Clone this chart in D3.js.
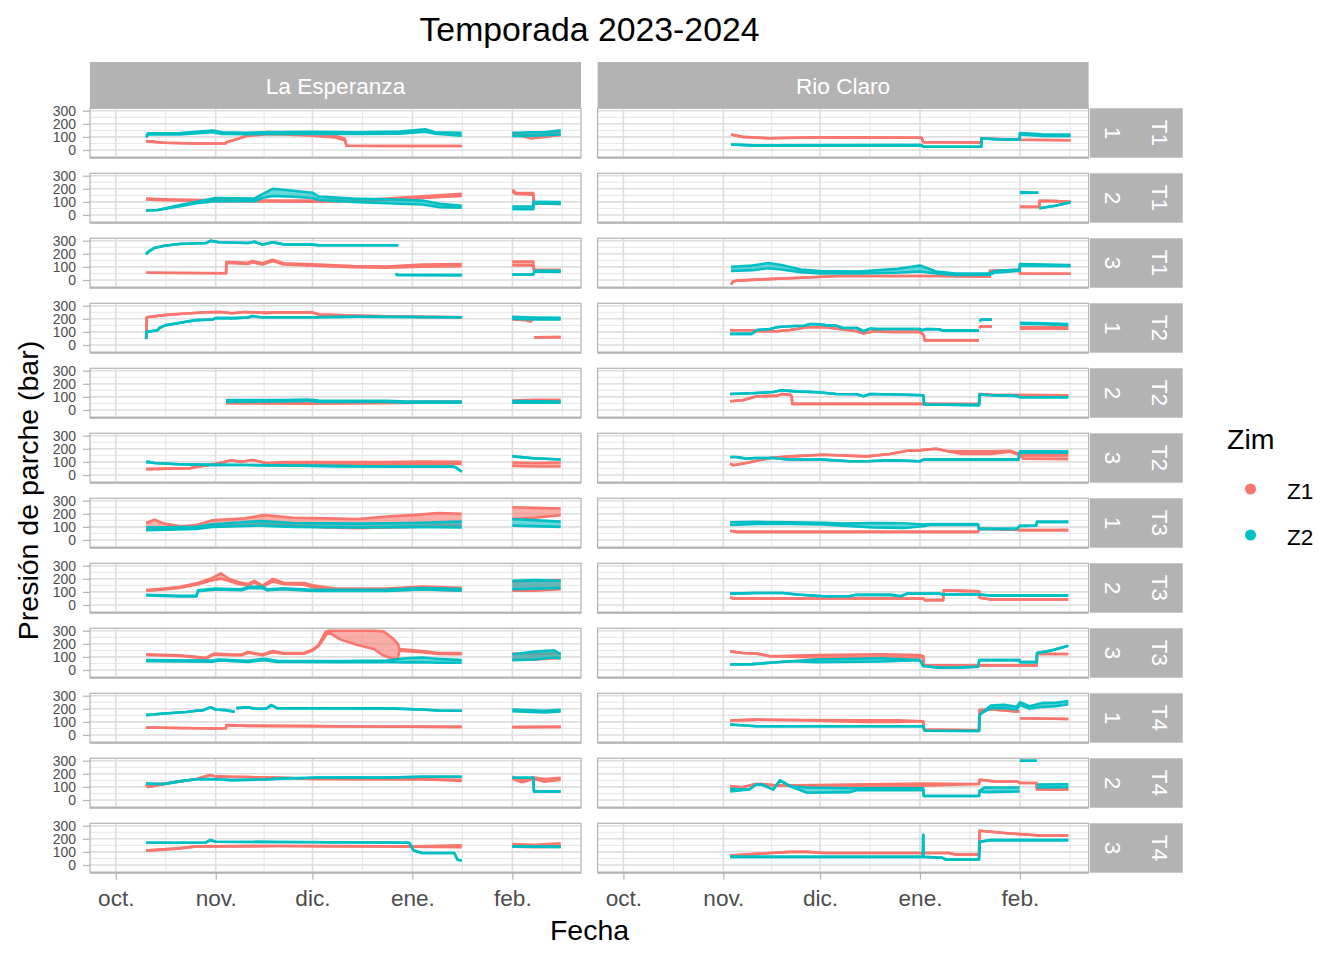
<!DOCTYPE html>
<html>
<head>
<meta charset="utf-8">
<script src="https://cdn.jsdelivr.net/npm/d3@7"></script>
<style>
  body { margin: 0; background: #fff; }
  text { font-family: "Liberation Sans", Arial, sans-serif; }
</style>
</head>
<body>
<svg width="1344" height="960"></svg>
<script>
// days are counted from 1 oct 2023; a point is [day, value] or [day, low, high] for noisy stretches
const sites = ["La Esperanza", "Rio Claro"];
const rows = [["T1","1"],["T1","2"],["T1","3"],["T2","1"],["T2","2"],["T2","3"],
              ["T3","1"],["T3","2"],["T3","3"],["T4","1"],["T4","2"],["T4","3"]];
const zims = ["Z1", "Z2"];
const monthTicks = [0, 31, 61, 92, 123];
const monthLabels = ["oct.", "nov.", "dic.", "ene.", "feb."];
const yTicks = [0, 100, 200, 300];

// ---- La Esperanza
const esp_T1_1_Z1 = [[[9.4,68],[15,55],[25,50],[34,50],[34.3,60],[38,85],[41,108,118],[47,120,138],[52,118,132],[61,110,125],[68,95,108],[71,75,88],[71.6,32],[85,30],[107.3,30]],
  [[123,115,132],[126,105,125],[129,88,110],[133,100,120],[138,115,130]]];
const esp_T1_1_Z2 = [[[9.4,95,110],[10,118,128],[20,118,130],[30,135,148],[33,122,135],[40,120,132],[45,122,135],[61,122,138],[75,122,135],[88,125,140],[96,140,158],[99,125,135],[107.3,110,132]],
  [[123,105,130],[128,108,135],[133,112,135],[138,118,150]]];
const esp_T1_2_Z1 = [[[9.4,118,125],[15,112,120],[31,105,112],[60,102,110],[75,103,112],[84,115,125],[95,130,142],[107.3,145,162]],
  [[123,180,195],[124,160,170],[129.5,155,168],[129.6,88],[138,85,95]]];
const esp_T1_2_Z2 = [[[9.4,35],[13,38],[19.6,65,75],[25,90,100],[31,105,130],[43,105,125],[45.5,130,160],[48.7,145,200],[55,140,185],[61,130,170],[63,115,140],[73.6,100,125],[84,90,120],[95,80,110],[100.5,60,85],[107.3,55,70]],
  [[123,45,65],[129.5,45,65],[129.6,90,100],[138,85,98]]];
const esp_T1_3_Z1 = [[[9.4,55],[34.2,52],[34.3,130,138],[41,122,132],[42.3,135,145],[45.5,118,128],[48.7,145,155],[52,118,128],[61,110,120],[73.6,98,106],[84,93,102],[95,102,118],[107.3,105,122]],
  [[123,112,140],[129.5,112,140],[129.7,70,80],[138,68,78]]];
const esp_T1_3_Z2 = [[[9.4,195],[10,215],[12,245],[15,262],[19.6,275],[28,282],[29.5,300],[32,288],[41,282],[43,292],[45.5,270],[48.7,288],[52,272],[61,270],[63,265],[87.6,265]],
  [[87,52],[87.2,38],[107.3,37]],
  [[123,42],[129.5,42],[130,65,72],[138,62,70]]];
const esp_T2_1_Z1 = [[[9.4,50],[9.6,212],[15,228],[19.6,237],[28,250],[32.6,252],[36,242],[40,252],[46.6,245],[52,250],[61,248],[63,232],[73.6,225],[84,220],[95,215],[107.3,212]],
  [[123,195,212],[127,190,205],[128.6,178,195],[129.4,195,205]],
  [[129.8,58],[138,60]]];
const esp_T2_1_Z2 = [[[9.4,45],[9.6,100],[13,112],[13.5,130],[15.3,150],[21.8,178],[25,190],[30,195],[31,205],[37,205],[41,210],[42.3,222],[45,212],[61,212],[75,216],[107.3,212]],
  [[123,200,215],[130,195,210],[138,195,208]]];
const esp_T2_2_Z1 = [[[34.2,50,58],[60,48,58],[84,52,58],[95,55,65],[107.3,55,65]],
  [[123,60,72],[130,60,78],[138,62,78]]];
const esp_T2_2_Z2 = [[[34.2,62,75],[52,65,75],[59.5,70,80],[63,62,72],[84,62,70],[90,55,65],[107.3,55,65]],
  [[123,55,68],[138,55,65]]];
const esp_T2_3_Z1 = [[[9.4,45],[22.9,52],[25,62],[30,80],[33.6,100],[35.8,112],[39,100],[42.3,115],[46.6,92],[52,82,98],[84,80,98],[95,88,102],[107.3,85,100]],
  [[123,70,95],[130,65,92],[138,65,95]]];
const esp_T2_3_Z2 = [[[9.4,98],[10,100],[12,92],[15,88],[19.6,82],[30,77],[41,76],[52,72],[69,68],[84,65],[105,64],[106,48],[107.3,25]],
  [[123,145],[124,140],[129.6,128],[138,118]]];
const esp_T3_1_Z1 = [[[9.4,90,130],[12,95,155],[15,90,125],[20,90,105],[25,95,115],[30,105,150],[40,110,165],[46,120,190],[55,110,170],[65,95,165],[75,90,160],[85,95,180],[92,100,190],[100,110,205],[107.3,110,200]],
  [[123,160,250],[130,170,245],[138,190,240]]];
const esp_T3_1_Z2 = [[[9.4,75,95],[25,85,100],[30,100,120],[45,110,145],[55,100,130],[75,95,125],[92,100,130],[107.3,95,140]],
  [[123,110,160],[138,100,140]]];
const esp_T3_2_Z1 = [[[9.4,108,115],[15,118,125],[19.6,130,138],[25,155,165],[29.3,185,200],[32.6,200,242],[35,185,200],[38,160,175],[41,150,160],[43,172,185],[45.5,138,148],[48.7,180,198],[52,158,170],[58.5,155,168],[61,135,150],[68,110,125],[84,110,125],[95,120,140],[107.3,110,132]],
  [[123,110,175],[130,110,185],[138,120,190]]];
const esp_T3_2_Z2 = [[[9.4,72,78],[19.6,65,70],[25,65,70],[25.5,105,112],[31,118,126],[39,112,120],[41,128,138],[45.5,128,140],[47,112,120],[52,120,128],[61,108,116],[84,108,118],[95,118,130],[107.3,110,122]],
  [[123,120,185],[130,125,190],[138,130,185]]];
const esp_T3_3_Z1 = [[[9.4,115,120],[19.6,108,112],[25,95,100],[28,88,94],[30.4,118,125],[36,112,118],[39,112,118],[41,132,138],[45.5,112,118],[48.7,136,145],[52,124,130],[58.5,125,132],[61,148,155],[63,185,195],[65,260,290],[66,285,300],[70,230,300],[75,190,300],[80,160,300],[83,110,295],[86,85,240],[87.5,90,200],[88,148,160],[95,135,145],[100,123,130],[107.3,120,130]],
  [[123,80,125],[130,80,120],[138,90,130]]];
const esp_T3_3_Z2 = [[[9.4,68,75],[30,64,72],[32,72,80],[41,62,70],[46,75,85],[50,62,70],[70,60,68],[84,62,72],[90,58,90],[95,60,95],[100,55,85],[107.3,55,75]],
  [[123,75,120],[130,80,140],[136,95,150],[138,90,120]]];
const esp_T4_1_Z1 = [[[9.4,57],[30,50],[34.2,52],[34.3,75],[41,70],[61,68],[73.6,65],[107.3,62]],
  [[123,60],[138,62]]];
const esp_T4_1_Z2 = [[[9.4,152],[14,162],[21.8,175],[25,185],[27,188],[29.3,212],[31,195],[34,190],[36.9,178]],
  [[37.4,205],[41,212],[43,200],[46.6,200],[48.2,228],[50,205],[84,203],[95,195],[100,187],[107.3,185]],
  [[123,182,195],[133,172,185],[138,180,192]]];
const esp_T4_2_Z1 = [[[9.4,117],[10,100],[15.3,125],[19.6,140],[25,160],[29.3,190],[31,180],[34.7,178],[41,175],[52,170],[61,160],[84,158],[95,158],[107.3,145,155]],
  [[123,160,178],[126,135,150],[129.6,160,172],[133,140,160],[138,155,170]]];
const esp_T4_2_Z2 = [[[9.4,125],[15,122],[19.6,142],[25,158],[29,160],[31,158],[36,152],[45.5,155],[52,165],[58.5,168],[63,172],[84,172],[95,178],[107.3,178]],
  [[123,170],[129.5,170],[129.7,66],[138,66]]];
const esp_T4_3_Z1 = [[[9.4,110],[19.6,127],[25,142],[50,145],[84,142],[90,140],[107.3,135,150]],
  [[123,140,160],[130,135,155],[138,140,165]]];
const esp_T4_3_Z2 = [[[9.4,170],[28,172],[29.3,190],[31,178],[50,175],[84,172],[91,170],[92.4,110],[95,92],[105,92],[106,40],[107.3,35]],
  [[123,142],[138,138]]];

// ---- Rio Claro
const rio_T1_1_Z1 = [[[33.4,118],[37,100],[45,90],[61,97],[92.5,93],[93,60],[111,58],[111.1,88],[116,84],[123,78],[138.7,74]]];
const rio_T1_1_Z2 = [[[33.4,42],[40,35],[92.5,37],[93,25],[111,25],[111.1,88],[116,82],[122.9,80],[123,118,130],[130,108,120],[138.7,105,118]]];
const rio_T1_2_Z1 = [[[123,62],[129,62],[129.1,108],[134,106],[138.7,100]]];
const rio_T1_2_Z2 = [[[123,168,175],[128.7,170]], [[129,52],[134,70],[138.7,97]]];
const rio_T1_3_Z1 = [[[33.4,-35],[34,-12],[35,-5],[43,5],[55,17],[67,30],[97,30],[113.6,25],[113.7,70],[122.9,75],[123,50],[138.7,48]]];
const rio_T1_3_Z2 = [[[33.4,70,100],[40,75,110],[45,90,130],[49,80,115],[55,60,80],[61,50,68],[73,50,65],[85,55,85],[92,65,110],[97,50,65],[103,38,50],[113.6,40,52],[115,55,68],[122.9,70,80],[123,110,122],[138.7,105,115]]];
const rio_T2_1_Z1 = [[[33.1,112],[39.8,112],[41.4,105],[47.5,105],[51.7,115],[57,135],[62,137],[67,122],[72.4,105],[74.5,87],[77.6,105],[83,100],[92,100],[93.2,75],[93.4,35],[110.3,35]],
  [[110.5,128],[110.7,142],[114.3,142]],
  [[123,125,135],[138,125,135]]];
const rio_T2_1_Z2 = [[[33.1,85],[39.8,85],[41.4,115],[45.5,122],[48,137],[53,145],[56,147],[58,160],[61,158],[63,150],[66,148],[68,130],[72.4,130],[74.5,105],[76.5,125],[78.6,122],[92,122],[92.6,112],[94,122],[98,120],[99,110],[110.3,110]],
  [[110.5,180],[111,195],[114.3,195]],
  [[123,160,170],[130,158,165],[138,152,160]]];
const rio_T2_2_Z1 = [[[33.1,67],[37,75],[41.4,105],[47.6,108],[49,122],[51.7,117],[52.2,105],[52.4,47],[93,47],[110.3,45],[110.5,122],[115,115],[138,112]]];
const rio_T2_2_Z2 = [[[33.1,122],[41.4,130],[46.5,137],[49,150],[53.8,142],[60,135],[62,132],[66,122],[72.4,120],[74.5,105],[76.5,122],[85,118],[93,112],[93.3,42],[110.3,37],[110.5,118],[114,112],[122,108],[123,97],[138,97]]];
const rio_T2_3_Z1 = [[[33.1,87],[34,75],[38,92],[45.5,130],[51.7,142],[62,155],[75.5,142],[82.7,160],[88,185],[91,185],[93,192],[97,200],[101,180],[105,160,180],[114,160,180],[120,178,185],[123,150,160],[124,125,150],[138,120,150]]];
const rio_T2_3_Z2 = [[[33.1,137],[35,137],[38,125],[41,130],[46.5,130],[52,117],[62,117],[70,105],[75.5,105],[83,112],[92,105],[93,117],[122.5,117],[123,172,180],[138,170,180]]];
const rio_T3_1_Z1 = [[[33.1,70],[35,62],[93,62],[110,62],[110.3,87],[115,82],[122,78],[123,75],[138,75]]];
const rio_T3_1_Z2 = [[[33.1,115,135],[41.4,122,138],[52,122,135],[62,118,132],[68,110,125],[77.6,95,130],[87,92,128],[93,105,118],[95,115,122],[110,115,122],[110.3,85],[122,85],[123,108],[128,110],[128.3,138],[138,138]]];
const rio_T3_2_Z1 = [[[33.1,60],[34,50],[93,50],[93.5,37],[99.2,37],[99.4,112],[105,108],[110.3,105],[110.5,55],[114,42],[138,42]]];
const rio_T3_2_Z2 = [[[33.1,87],[41,92],[49.6,92],[53.8,80],[62,67],[70,67],[72,77],[83,77],[86,67],[88,87],[93,87],[98,87],[99,80],[110,80],[114,72],[138,72]]];
const rio_T3_3_Z1 = [[[33.1,142],[37,130],[41.4,125],[45.5,105],[60,95,115],[80,95,120],[92,95,115],[93,105],[93.1,35],[128.2,35],[128.3,122],[138,122]]];
const rio_T3_3_Z2 = [[[33.1,42],[40,45],[45.5,55],[52,67],[60,60,80],[80,65,90],[92,75],[93,30],[98,17],[103,18],[110,25],[110.4,75],[122.9,75],[123,60],[128.2,60],[128.3,130],[133,150],[138,185]]];
const rio_T4_1_Z1 = [[[33.1,110],[41.4,117],[52,115],[74.5,100,112],[85,100,112],[93,105],[93.2,42],[110.3,35],[110.5,190],[114,197],[121,182],[122.8,180]],
  [[123,128],[138,122]]];
const rio_T4_1_Z2 = [[[33.1,80],[41.4,67],[93,67],[93.2,55],[93.5,32],[110.3,30],[110.5,150],[111,165],[114,205,225],[118,205,230],[122,195,215],[123,230,250],[126,200,220],[130,215,245],[134,220,245],[138,235,260]]];
const rio_T4_2_Z1 = [[[33.1,105],[37,97],[41,122],[43,122],[47.6,110],[93,110,125],[110.3,122],[110.5,155],[115,142],[122,142],[123,130],[128.1,130],[128.3,80],[138,80]]];
const rio_T4_2_Z2 = [[[33.1,65,85],[39,80],[41,117],[43,117],[46.5,80],[48.6,150],[51.7,105],[57,55,95],[70,60,90],[72.4,75,90],[93,75,90],[93.2,30],[110.3,30],[110.5,70],[112,60,95],[122.9,65,95]],
  [[123,300],[128.2,300]],
  [[128.3,95,118],[138,98,120]]];
const rio_T4_3_Z1 = [[[33.1,72],[41.4,85],[52,100],[57,100],[62,92],[101,92],[103,80],[110.3,80],[110.5,262],[119,242],[129.4,225],[138,225]]];
const rio_T4_3_Z2 = [[[33.1,62],[92.9,62],[93,230],[93.1,62],[99,55],[100,42],[110.3,42],[110.5,177],[114,190],[138,190]]];

const seriesBySite = {
  "La Esperanza": [
    [esp_T1_1_Z1, esp_T1_1_Z2], [esp_T1_2_Z1, esp_T1_2_Z2], [esp_T1_3_Z1, esp_T1_3_Z2],
    [esp_T2_1_Z1, esp_T2_1_Z2], [esp_T2_2_Z1, esp_T2_2_Z2], [esp_T2_3_Z1, esp_T2_3_Z2],
    [esp_T3_1_Z1, esp_T3_1_Z2], [esp_T3_2_Z1, esp_T3_2_Z2], [esp_T3_3_Z1, esp_T3_3_Z2],
    [esp_T4_1_Z1, esp_T4_1_Z2], [esp_T4_2_Z1, esp_T4_2_Z2], [esp_T4_3_Z1, esp_T4_3_Z2]],
  "Rio Claro": [
    [rio_T1_1_Z1, rio_T1_1_Z2], [rio_T1_2_Z1, rio_T1_2_Z2], [rio_T1_3_Z1, rio_T1_3_Z2],
    [rio_T2_1_Z1, rio_T2_1_Z2], [rio_T2_2_Z1, rio_T2_2_Z2], [rio_T2_3_Z1, rio_T2_3_Z2],
    [rio_T3_1_Z1, rio_T3_1_Z2], [rio_T3_2_Z1, rio_T3_2_Z2], [rio_T3_3_Z1, rio_T3_3_Z2],
    [rio_T4_1_Z1, rio_T4_1_Z2], [rio_T4_2_Z1, rio_T4_2_Z2], [rio_T4_3_Z1, rio_T4_3_Z2]]
};

const colors = {Z1: "#F8766D", Z2: "#00BFC4"};
const t0 = new Date(2023, 9, 1).getTime();
const toDate = d => new Date(t0 + d * 864e5);

const svg = d3.select("svg");
const W = 491, H = 49.4;
const colX = [90, 597.6];
const rowY = i => 108.3 + 65 * i;

const x = d3.scaleTime().domain([toDate(-8), toDate(144.3)]).range([0, W]);
const y = d3.scaleLinear().domain([-58.8, 318.3]).range([H, 0]);

// minor breaks halfway between months, plus one past the last month
const minorX = monthTicks.slice(1).map((m, i) => (m + monthTicks[i]) / 2);
minorX.push(monthTicks[4] + (monthTicks[4] - monthTicks[3]) / 2);
const minorY = [-50, 50, 150, 250];

svg.append("defs").append("clipPath").attr("id", "pclip")
  .append("rect").attr("width", W).attr("height", H);

const pt = p => p.length === 2 ? [p[0], p[1], p[1]] : p;
const area = d3.area().x(p => x(toDate(p[0]))).y0(p => y(p[1])).y1(p => y(p[2]));
const loLine = d3.line().x(p => x(toDate(p[0]))).y(p => y(p[1]));
const hiLine = d3.line().x(p => x(toDate(p[0]))).y(p => y(p[2]));

sites.forEach((site, c) => {
  // top strip
  svg.append("rect").attr("x", colX[c]).attr("y", 62).attr("width", W).attr("height", 46.3)
    .attr("fill", "#B3B3B3");
  svg.append("text").attr("x", colX[c] + W / 2).attr("y", 93.5).attr("text-anchor", "middle")
    .attr("font-size", 22.6).attr("fill", "#fff").text(site);

  rows.forEach((r, i) => {
    const g = svg.append("g").attr("transform", `translate(${colX[c]},${rowY(i)})`);
    g.append("rect").attr("width", W).attr("height", H).attr("fill", "#fff");

    g.selectAll(".gminx").data(minorX).join("line")
      .attr("x1", d => x(toDate(d))).attr("x2", d => x(toDate(d)))
      .attr("y1", 0).attr("y2", H).attr("stroke", "#E3E3E3").attr("stroke-width", 0.9);
    g.selectAll(".gminy").data(minorY).join("line")
      .attr("x1", 0).attr("x2", W).attr("y1", d => y(d)).attr("y2", d => y(d))
      .attr("stroke", "#E3E3E3").attr("stroke-width", 0.9);
    g.selectAll(".gmajx").data(monthTicks).join("line")
      .attr("x1", d => x(toDate(d))).attr("x2", d => x(toDate(d)))
      .attr("y1", 0).attr("y2", H).attr("stroke", "#DEDEDE").attr("stroke-width", 1.6);
    g.selectAll(".gmajy").data(yTicks).join("line")
      .attr("x1", 0).attr("x2", W).attr("y1", d => y(d)).attr("y2", d => y(d))
      .attr("stroke", "#DEDEDE").attr("stroke-width", 1.6);

    const dg = g.append("g").attr("clip-path", "url(#pclip)");
    zims.forEach((z, k) => {
      const segs = seriesBySite[site][i][k].map(s => s.map(pt));
      segs.forEach(seg => {
        dg.append("path").attr("d", area(seg)).attr("fill", colors[z]).attr("fill-opacity", 0.6);
        [loLine, hiLine].forEach(ln => {
          dg.append("path").attr("d", ln(seg)).attr("fill", "none").attr("stroke", colors[z])
            .attr("stroke-width", 2.6).attr("stroke-linejoin", "round");
        });
      });
    });

    g.append("rect").attr("width", W).attr("height", H).attr("fill", "none")
      .attr("stroke", "#B3B3B3").attr("stroke-width", 1.2);
    g.append("line").attr("x1", 0).attr("x2", W).attr("y1", H).attr("y2", H)
      .attr("stroke", "#B3B3B3").attr("stroke-width", 2);

    if (c === 0) {
      const ya = g.append("g").call(d3.axisLeft(y).tickValues(yTicks).tickSize(7).tickPadding(7));
      ya.select(".domain").remove();
      ya.selectAll("line").attr("stroke", "#B3B3B3").attr("stroke-width", 1.2);
      ya.selectAll("text").attr("font-size", 14).attr("fill", "#4D4D4D")
        .attr("font-family", "Liberation Sans, Arial, sans-serif");
    }
    if (i === rows.length - 1) {
      const xa = g.append("g").attr("transform", `translate(0,${H})`)
        .call(d3.axisBottom(x).tickValues(monthTicks.map(toDate))
          .tickFormat((d, j) => monthLabels[j]).tickSize(7).tickPadding(10));
      xa.select(".domain").remove();
      xa.selectAll("line").attr("stroke", "#B3B3B3").attr("stroke-width", 1.2);
      xa.selectAll("text").attr("font-size", 22.6).attr("fill", "#4D4D4D")
        .attr("font-family", "Liberation Sans, Arial, sans-serif");
    }
    if (c === 1) {
      svg.append("rect").attr("x", 1090).attr("y", rowY(i)).attr("width", 92.7).attr("height", H)
        .attr("fill", "#B3B3B3");
      [[1113, r[1]], [1159.5, r[0]]].forEach(([cx, label]) => {
        svg.append("text")
          .attr("transform", `translate(${cx},${rowY(i) + H / 2}) rotate(90)`)
          .attr("text-anchor", "middle").attr("dy", "0.35em")
          .attr("font-size", 22.6).attr("fill", "#fff").text(label);
      });
    }
  });
});

// titles
svg.append("text").attr("x", 589.5).attr("y", 41).attr("text-anchor", "middle")
  .attr("font-size", 33.8).attr("fill", "#000").text("Temporada 2023-2024");
svg.append("text").attr("x", 589.5).attr("y", 940).attr("text-anchor", "middle")
  .attr("font-size", 28.5).attr("fill", "#000").text("Fecha");
svg.append("text").attr("transform", "translate(38,490.5) rotate(-90)").attr("text-anchor", "middle")
  .attr("font-size", 28.5).attr("fill", "#000").text("Presión de parche (bar)");

// legend
svg.append("text").attr("x", 1227).attr("y", 449).attr("font-size", 28.5).attr("fill", "#000").text("Zim");
zims.forEach((z, k) => {
  svg.append("circle").attr("cx", 1250.5).attr("cy", 489 + 46 * k).attr("r", 5.5).attr("fill", colors[z]);
  svg.append("text").attr("x", 1287).attr("y", 499 + 46 * k).attr("font-size", 22.6).attr("fill", "#000").text(z);
});
</script>
</body>
</html>
